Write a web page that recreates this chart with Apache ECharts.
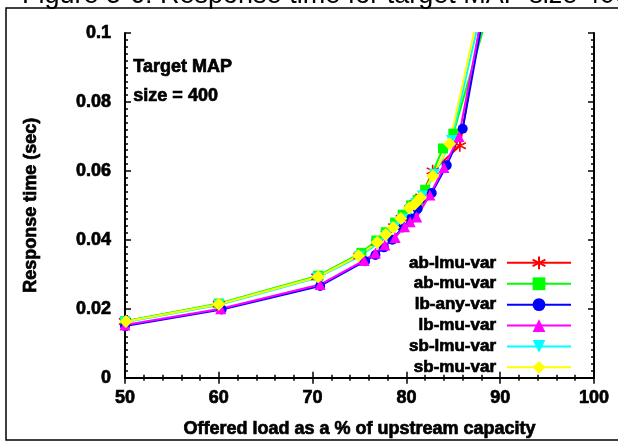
<!DOCTYPE html>
<html>
<head>
<meta charset="utf-8">
<script src="https://cdn.jsdelivr.net/npm/echarts@6/dist/echarts.min.js"></script>
<style>
  html, body { margin: 0; padding: 0; background: #fff; }
  #chart { width: 618px; height: 443px; }
</style>
</head>
<body>
<div id="chart"></div>
<script>
// Offered load (% of upstream capacity) and response time (sec) per scheme
const abLmuVarX = [50.0, 60.0, 70.5, 75.0, 76.9, 77.9, 78.7, 79.5, 80.4, 81.0, 81.6, 82.8, 85.7, 89.0];
const abLmuVarY = [0.0163, 0.0213, 0.0292, 0.0353, 0.0392, 0.0416, 0.0438, 0.0462, 0.0490, 0.0506, 0.0524, 0.0600, 0.0673, 0.1210];

const abMuVarX = [50.0, 60.0, 70.6, 75.2, 76.8, 77.8, 78.8, 79.6, 80.5, 81.2, 82.0, 83.9, 85.0, 88.5];
const abMuVarY = [0.0164, 0.0215, 0.0296, 0.0362, 0.0398, 0.0422, 0.0450, 0.0473, 0.0500, 0.0516, 0.0545, 0.0665, 0.0708, 0.1040];

const lbAnyVarX = [50.0, 60.3, 70.8, 75.6, 76.7, 77.6, 78.5, 79.6, 80.5, 81.2, 82.7, 84.3, 86.0, 88.6];
const lbAnyVarY = [0.0150, 0.0198, 0.0266, 0.0338, 0.0356, 0.0378, 0.0400, 0.0436, 0.0462, 0.0490, 0.0536, 0.0616, 0.0722, 0.1110];

const lbMuVarX = [50.0, 60.2, 70.8, 75.5, 76.7, 77.7, 78.8, 79.8, 80.4, 81.1, 82.5, 84.0, 85.6, 88.4];
const lbMuVarY = [0.0153, 0.0200, 0.0270, 0.0340, 0.0362, 0.0385, 0.0407, 0.0438, 0.0452, 0.0466, 0.0530, 0.0610, 0.0700, 0.1100];

const sbLmuVarX = [50.0, 60.0, 70.5, 75.0, 77.0, 77.9, 78.8, 79.6, 80.4, 81.0, 81.7, 83.0, 84.8, 88.2];
const sbLmuVarY = [0.0161, 0.0211, 0.0290, 0.0352, 0.0390, 0.0413, 0.0437, 0.0460, 0.0488, 0.0505, 0.0527, 0.0590, 0.0688, 0.1090];

const sbMuVarX = [50.1, 60.0, 70.6, 74.9, 76.9, 77.8, 78.6, 79.4, 80.3, 80.9, 81.5, 82.8, 84.6, 88.0];
const sbMuVarY = [0.0163, 0.0213, 0.0293, 0.0354, 0.0393, 0.0415, 0.0436, 0.0462, 0.0492, 0.0504, 0.0522, 0.0585, 0.0679, 0.1100];

const xTicks = [50, 60, 70, 80, 90, 100];
const yTicks = [0, 0.02, 0.04, 0.06, 0.08, 0.1];

const FONT = 'Liberation Sans, Arial, sans-serif';

function pairs(xs, ys) {
  return xs.map((x, i) => [x, ys[i]]);
}

const STAR = 'path://M10,0L10,20M1.5,5L18.5,15M1.5,15L18.5,5';
const DOWN_TRI = 'path://M0,0L20,0L10,17Z';

const seriesDefs = [
  { name: 'ab-lmu-var', color: '#ff0000', x: abLmuVarX, y: abLmuVarY, symbol: STAR, size: 12, stroke: true },
  { name: 'ab-mu-var',  color: '#00ff00', x: abMuVarX,  y: abMuVarY,  symbol: 'rect', size: 10 },
  { name: 'lb-any-var', color: '#0000ff', x: lbAnyVarX, y: lbAnyVarY, symbol: 'circle', size: 10 },
  { name: 'lb-mu-var',  color: '#ff00ff', x: lbMuVarX,  y: lbMuVarY,  symbol: 'triangle', size: 11 },
  { name: 'sb-lmu-var', color: '#00ffff', x: sbLmuVarX, y: sbLmuVarY, symbol: DOWN_TRI, size: 11 },
  { name: 'sb-mu-var',  color: '#ffff00', x: sbMuVarX,  y: sbMuVarY,  symbol: 'diamond', size: 13 }
];

const series = seriesDefs.map(d => ({
  name: d.name,
  type: 'line',
  xAxisIndex: 0,
  yAxisIndex: 0,
  data: pairs(d.x, d.y),
  symbol: d.symbol,
  symbolSize: d.size,
  showSymbol: true,
  clip: true,
  animation: false,
  color: d.color,
  lineStyle: { color: d.color, width: 2 },
  itemStyle: d.stroke
    ? { color: 'rgba(0,0,0,0)', borderColor: d.color, borderWidth: 1.6 }
    : { color: d.color, borderWidth: 0 }
}));

// heavy bold text, thickened with a thin outline of the same colour
const heavy = { color: '#000', fontFamily: FONT, fontWeight: 'bold', textBorderColor: '#000', textBorderWidth: 0.7 };
const axisLine = { show: true, lineStyle: { color: '#000', width: 2 } };
const labelStyle = Object.assign({ fontSize: 18 }, heavy);
const nameStyle = Object.assign({ fontSize: 18 }, heavy);

const chart = echarts.init(document.getElementById('chart'), null, { renderer: 'canvas' });
chart.setOption({
  backgroundColor: '#fff',
  animation: false,
  grid: { left: 125, right: 24, top: 33, bottom: 61, containLabel: false },
  xAxis: [
    {
      type: 'value', min: 50, max: 100, interval: 10, position: 'bottom',
      axisLine,
      axisTick: { inside: true, length: 6, lineStyle: { color: '#000', width: 1.5 } },
      minorTick: { show: true, splitNumber: 5, length: 3, lineStyle: { color: '#000', width: 1.5 } },
      splitLine: { show: false },
      axisLabel: Object.assign({ margin: 11, formatter: v => xTicks.includes(v) ? String(v) : '' }, labelStyle),
      name: 'Offered load as a % of upstream capacity',
      nameLocation: 'middle', nameGap: 42,
      nameTextStyle: nameStyle
    },
    {
      type: 'value', min: 50, max: 100, interval: 10, position: 'top',
      axisLine,
      axisTick: { inside: true, length: 6, lineStyle: { color: '#000', width: 1.5 } },
      minorTick: { show: true, splitNumber: 5, length: 3, lineStyle: { color: '#000', width: 1.5 } },
      splitLine: { show: false },
      axisLabel: { show: false }
    }
  ],
  yAxis: [
    {
      type: 'value', min: 0, max: 0.1, interval: 0.02, position: 'left',
      axisLine,
      axisTick: { inside: true, length: 6, lineStyle: { color: '#000', width: 1.5 } },
      minorTick: { show: true, splitNumber: 10, length: 3, lineStyle: { color: '#000', width: 1.5 } },
      splitLine: { show: false },
      axisLabel: Object.assign({ margin: 14, formatter: v => {
        const t = yTicks.find(k => Math.abs(k - v) < 1e-9);
        return t === undefined ? '' : String(t);
      } }, labelStyle),
      name: 'Response time (sec)',
      nameLocation: 'middle', nameGap: 85, nameRotate: 90,
      nameTextStyle: nameStyle
    },
    {
      type: 'value', min: 0, max: 0.1, interval: 0.02, position: 'right',
      axisLine,
      axisTick: { inside: true, length: 6, lineStyle: { color: '#000', width: 1.5 } },
      minorTick: { show: true, splitNumber: 10, length: 3, lineStyle: { color: '#000', width: 1.5 } },
      splitLine: { show: false },
      axisLabel: { show: false }
    }
  ],
  legend: {
    orient: 'vertical',
    align: 'right',
    right: 46,
    top: 254,
    itemWidth: 64,
    itemHeight: 16,
    itemGap: 3.2,
    padding: 0,
    selectedMode: false,
    data: seriesDefs.map(d => d.name),
    textStyle: Object.assign({ fontSize: 17, lineHeight: 16, padding: [0, 6, 0, 0] }, heavy)
  },
  graphic: [
    {
      type: 'rect', silent: true, z: -1,
      shape: { x: 6, y: 8, width: 640, height: 432 },
      style: { fill: 'none', stroke: '#000', lineWidth: 1.5 }
    },
    {
      type: 'text', silent: true,
      left: 22, top: -18,
      style: { text: 'Figure 5-6: Response time for target MAP size 400', fill: '#000', font: '27px ' + FONT }
    },
    {
      type: 'text', silent: true,
      left: 133, top: 58,
      style: { text: 'Target MAP', fill: '#000', stroke: '#000', lineWidth: 0.7, font: 'bold 18px ' + FONT }
    },
    {
      type: 'text', silent: true,
      left: 133, top: 87,
      style: { text: 'size = 400', fill: '#000', stroke: '#000', lineWidth: 0.7, font: 'bold 18px ' + FONT }
    }
  ],
  series
});
</script>
</body>
</html>
